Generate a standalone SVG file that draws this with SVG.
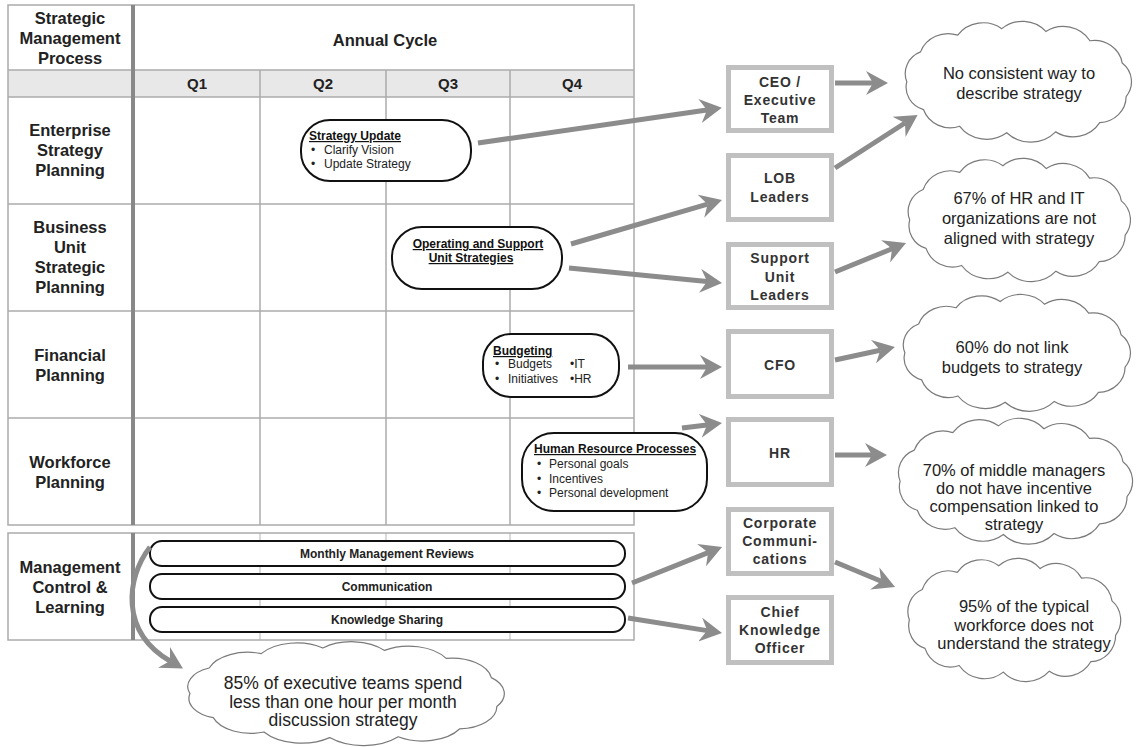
<svg xmlns="http://www.w3.org/2000/svg" xmlns:xlink="http://www.w3.org/1999/xlink" width="1136" height="747" viewBox="0 0 1136 747">
<style>
.grid{stroke:#ababab;stroke-width:1.5;fill:none}
.thick{stroke:#888;stroke-width:4}
.lbl{font-family:"Liberation Sans",Arial,sans-serif;font-weight:bold;font-size:16.5px;fill:#222;text-anchor:middle}
.q{font-family:"Liberation Sans",Arial,sans-serif;font-weight:bold;font-size:15px;fill:#222;text-anchor:middle}
.pill{fill:#fff;stroke:#111;stroke-width:2}
.pt{font-family:"Liberation Sans",Arial,sans-serif;font-weight:bold;font-size:12px;fill:#111;text-decoration:underline}
.px{font-family:"Liberation Sans",Arial,sans-serif;font-size:12px;fill:#222}
.bar{font-family:"Liberation Sans",Arial,sans-serif;font-weight:bold;font-size:12px;fill:#222;text-anchor:middle}
.role{fill:#fff;stroke:#c0c0c0;stroke-width:5}
.rt{font-family:"Liberation Sans",Arial,sans-serif;font-weight:bold;font-size:14px;letter-spacing:0.8px;fill:#333;text-anchor:middle}
.cloud{fill:#fff;stroke:#7a7a7a;stroke-width:1.2}
.ct{font-family:"Liberation Sans",Arial,sans-serif;font-size:16.5px;fill:#222;text-anchor:middle}
.arr{stroke:#8c8c8c;stroke-width:5;fill:none;marker-end:url(#ah)}
</style>
<defs>
<marker id="ah" viewBox="0 0 22 24" refX="7" refY="12" markerWidth="22" markerHeight="24" markerUnits="userSpaceOnUse" orient="auto">
<path d="M0,0 L22,12 L0,24 L7,12 Z" fill="#8c8c8c"/>
</marker>
<path id="cl" vector-effect="non-scaling-stroke" d="M8,62 A25,25 0 0 1 22,30 A30,30 0 0 1 60,12 A32,32 0 0 1 105,5 A32,32 0 0 1 150,8 A32,32 0 0 1 195,18 A29,29 0 0 1 228,42 A26,26 0 0 1 232,78 A28,28 0 0 1 205,106 A32,32 0 0 1 160,116 A35,35 0 0 1 110,117 A34,34 0 0 1 62,110 A29,29 0 0 1 25,92 A25,25 0 0 1 8,62 Z"/>
</defs>
<rect width="1136" height="747" fill="#fff"/>

<g id="table">
<rect x="8" y="70" width="626" height="27" fill="#e8e8e8"/>
<rect class="grid" x="8" y="5" width="626" height="520"/>
<line class="grid" x1="8" y1="70" x2="634" y2="70"/>
<line class="grid" x1="8" y1="97" x2="634" y2="97"/>
<line class="grid" x1="8" y1="204" x2="634" y2="204"/>
<line class="grid" x1="8" y1="311" x2="634" y2="311"/>
<line class="grid" x1="8" y1="418" x2="634" y2="418"/>
<line class="grid" x1="260" y1="70" x2="260" y2="525"/>
<line class="grid" x1="386" y1="70" x2="386" y2="525"/>
<line class="grid" x1="510" y1="70" x2="510" y2="525"/>
<line class="thick" x1="133" y1="5" x2="133" y2="525"/>
<rect class="grid" x="8" y="533" width="626" height="107"/>
<line class="grid" x1="260" y1="533" x2="260" y2="640" stroke-opacity="0.6"/>
<line class="grid" x1="386" y1="533" x2="386" y2="640" stroke-opacity="0.6"/>
<line class="grid" x1="510" y1="533" x2="510" y2="640" stroke-opacity="0.6"/>
<line class="thick" x1="133" y1="533" x2="133" y2="640"/>
<text class="lbl" x="70" y="24">Strategic</text>
<text class="lbl" x="70" y="44">Management</text>
<text class="lbl" x="70" y="64">Process</text>
<text class="lbl" x="385" y="46">Annual Cycle</text>
<text class="q" x="197" y="89">Q1</text>
<text class="q" x="323" y="89">Q2</text>
<text class="q" x="448" y="89">Q3</text>
<text class="q" x="572" y="89">Q4</text>
<text class="lbl" x="70" y="136">Enterprise</text>
<text class="lbl" x="70" y="156">Strategy</text>
<text class="lbl" x="70" y="176">Planning</text>
<text class="lbl" x="70" y="233">Business</text>
<text class="lbl" x="70" y="253">Unit</text>
<text class="lbl" x="70" y="273">Strategic</text>
<text class="lbl" x="70" y="293">Planning</text>
<text class="lbl" x="70" y="361">Financial</text>
<text class="lbl" x="70" y="381">Planning</text>
<text class="lbl" x="70" y="468">Workforce</text>
<text class="lbl" x="70" y="488">Planning</text>
<text class="lbl" x="70" y="573">Management</text>
<text class="lbl" x="70" y="593">Control &amp;</text>
<text class="lbl" x="70" y="613">Learning</text>
</g>

<g id="strategy-update">
<rect class="pill" x="301" y="120" width="170" height="61" rx="29"/>
<text class="pt" x="309" y="140">Strategy Update</text>
<text class="px" x="311" y="154">•</text><text class="px" x="324" y="154">Clarify Vision</text>
<text class="px" x="311" y="168">•</text><text class="px" x="324" y="168">Update Strategy</text>
</g>
<g id="operating">
<rect class="pill" x="392" y="227" width="170" height="62" rx="30"/>
<text class="pt" x="478" y="248" text-anchor="middle">Operating and Support</text>
<text class="pt" x="471" y="262" text-anchor="middle">Unit Strategies</text>
</g>
<g id="budgeting">
<rect class="pill" x="483" y="334" width="136" height="63" rx="28"/>
<text class="pt" x="493" y="355">Budgeting</text>
<text class="px" x="495" y="368">•</text><text class="px" x="508" y="368">Budgets</text><text class="px" x="570" y="368">•IT</text>
<text class="px" x="495" y="383">•</text><text class="px" x="508" y="383">Initiatives</text><text class="px" x="570" y="383">•HR</text>
</g>
<g id="hr-processes">
<rect class="pill" x="522" y="433" width="185" height="78" rx="32"/>
<text class="pt" x="534" y="453">Human Resource Processes</text>
<text class="px" x="537" y="468">•</text><text class="px" x="549" y="468">Personal goals</text>
<text class="px" x="537" y="483">•</text><text class="px" x="549" y="483">Incentives</text>
<text class="px" x="537" y="497">•</text><text class="px" x="549" y="497">Personal development</text>
</g>
<g id="monthly">
<rect class="pill" x="150" y="541" width="475" height="25" rx="12"/>
<text class="bar" x="387" y="558">Monthly Management Reviews</text>
</g>
<g id="communication">
<rect class="pill" x="150" y="574" width="475" height="25" rx="12"/>
<text class="bar" x="387" y="591">Communication</text>
</g>
<g id="knowledge">
<rect class="pill" x="150" y="607" width="475" height="25" rx="12"/>
<text class="bar" x="387" y="624">Knowledge Sharing</text>
</g>

<g id="ceo"><rect class="role" x="728.5" y="67.5" width="103" height="63"/>
<text class="rt" x="780" y="87">CEO /</text><text class="rt" x="780" y="105">Executive</text><text class="rt" x="780" y="123">Team</text></g>
<g id="lob"><rect class="role" x="728.5" y="155.5" width="103" height="64"/>
<text class="rt" x="780" y="183">LOB</text><text class="rt" x="780" y="202">Leaders</text></g>
<g id="support"><rect class="role" x="728.5" y="244.5" width="103" height="63"/>
<text class="rt" x="780" y="263">Support</text><text class="rt" x="780" y="282">Unit</text><text class="rt" x="780" y="300">Leaders</text></g>
<g id="cfo"><rect class="role" x="728.5" y="331.5" width="103" height="65"/>
<text class="rt" x="780" y="370">CFO</text></g>
<g id="hr"><rect class="role" x="728.5" y="419.5" width="103" height="65"/>
<text class="rt" x="780" y="458">HR</text></g>
<g id="corpcomm"><rect class="role" x="728.5" y="509.5" width="103" height="64"/>
<text class="rt" x="780" y="528">Corporate</text><text class="rt" x="780" y="546">Communi-</text><text class="rt" x="780" y="564">cations</text></g>
<g id="cko"><rect class="role" x="728.5" y="597.5" width="103" height="65"/>
<text class="rt" x="780" y="617">Chief</text><text class="rt" x="780" y="635">Knowledge</text><text class="rt" x="780" y="653">Officer</text></g>

<g id="cloud1"><use href="#cl" class="cloud" transform="translate(899,24) scale(0.979,0.93)"/>
<text class="ct" x="1019" y="79">No consistent way to</text><text class="ct" x="1019" y="99">describe strategy</text></g>
<g id="cloud2"><use href="#cl" class="cloud" transform="translate(902,161) scale(0.962,0.95)"/>
<text class="ct" x="1019" y="204">67% of HR and IT</text><text class="ct" x="1019" y="224">organizations are not</text><text class="ct" x="1019" y="244">aligned with strategy</text></g>
<g id="cloud3"><use href="#cl" class="cloud" transform="translate(897,297) scale(0.983,0.9)"/>
<text class="ct" x="1012" y="353">60% do not link</text><text class="ct" x="1012" y="373">budgets to strategy</text></g>
<g id="cloud4"><use href="#cl" class="cloud" transform="translate(892,421) scale(1.013,0.97)"/>
<text class="ct" x="1014" y="476">70% of middle managers</text><text class="ct" x="1014" y="494">do not have incentive</text><text class="ct" x="1014" y="512">compensation linked to</text><text class="ct" x="1014" y="530">strategy</text></g>
<g id="cloud5"><use href="#cl" class="cloud" transform="translate(902,561) scale(0.921,0.95)"/>
<text class="ct" x="1024" y="612">95% of the typical</text><text class="ct" x="1024" y="631">workforce does not</text><text class="ct" x="1024" y="649">understand the strategy</text></g>
<g id="cloud85"><use href="#cl" class="cloud" transform="translate(179,644) scale(1.37,0.8)"/>
<text class="ct" x="343" y="689" style="font-size:17.5px">85% of executive teams spend</text><text class="ct" x="343" y="708" style="font-size:17.5px">less than one hour per month</text><text class="ct" x="343" y="726" style="font-size:17.5px">discussion strategy</text></g>

<g id="connectors">
<path class="arr" d="M478,143 L707,110"/>
<path class="arr" d="M835,83 L873,83"/>
<path class="arr" d="M835,168 L905,123"/>
<path class="arr" d="M571,244 L707.6,204.2"/>
<path class="arr" d="M569,268 L707.1,281.5"/>
<path class="arr" d="M835,272 L892.1,248.7"/>
<path class="arr" d="M628,367 L707,367"/>
<path class="arr" d="M835,360 L880.3,350.2"/>
<path class="arr" d="M682,428 L707.1,424.9"/>
<path class="arr" d="M835,455 L872,455"/>
<path class="arr" d="M632,583 L708.1,552.6"/>
<path class="arr" d="M628,618 L707.2,630.6"/>
<path class="arr" d="M835,562 L881.2,581.2"/>
<path class="arr" d="M150,547 C126,578 120,632 170,661"/>
</g>
</svg>
